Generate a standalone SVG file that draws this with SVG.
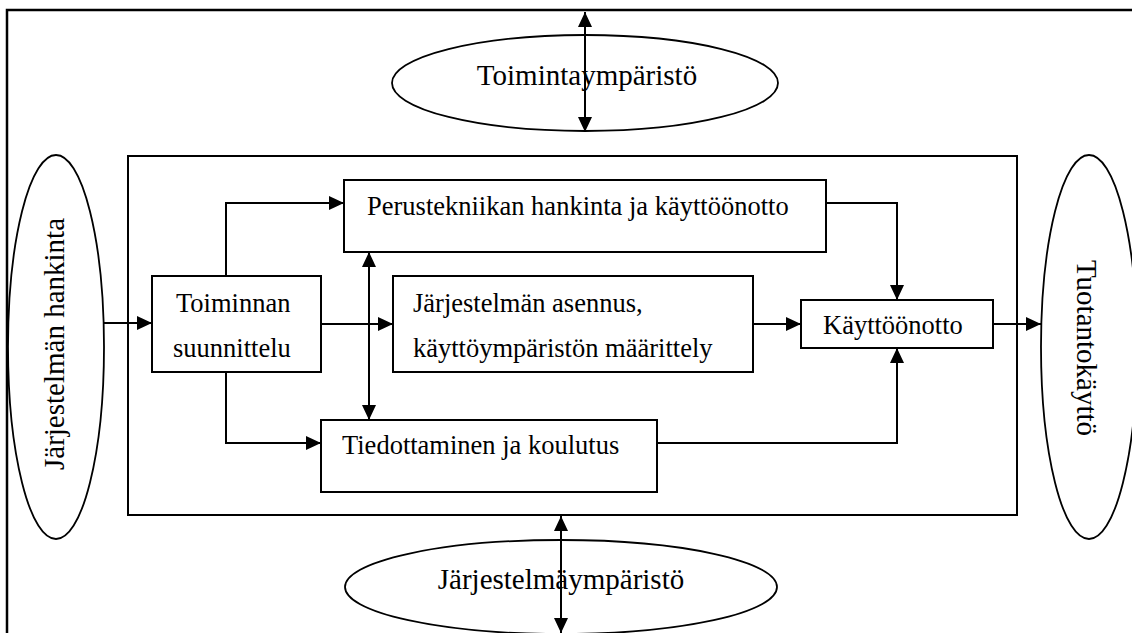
<svg xmlns="http://www.w3.org/2000/svg" width="1132" height="633" viewBox="0 0 1132 633">
<style>
  .frame{fill:none;stroke:#000;stroke-width:2.5}
  .box{fill:#fff;stroke:#000;stroke-width:2}
  .ell{fill:#fff;stroke:#000;stroke-width:1.8}
  text{font-family:'Liberation Serif','Times New Roman',serif;fill:#000}
  .t{font-size:26.5px}
  .te{font-size:29px}
  .c{fill:none;stroke:#000;stroke-width:2}
</style>
<defs>
  <marker id="ah" markerUnits="userSpaceOnUse" markerWidth="15" markerHeight="14" refX="15" refY="7" orient="auto-start-reverse">
    <path d="M0,0 L15,7 L0,14 z" fill="#000"/>
  </marker>
</defs>
<rect width="1132" height="633" fill="#fff"/>
<path class="frame" d="M7,633 V10 H1132"/>
<rect class="frame" x="128" y="156" width="889" height="359" style="stroke-width:2"/>

<g id="toimintaymparisto">
  <ellipse class="ell" cx="585" cy="83" rx="193" ry="48"/>
  <text class="te" x="587" y="85" text-anchor="middle">Toimintaympäristö</text>
</g>
<g id="jarjestelmaymparisto">
  <ellipse class="ell" cx="561" cy="587" rx="216" ry="47"/>
  <text class="te" x="561" y="589" text-anchor="middle">Järjestelmäympäristö</text>
</g>
<g id="jarjestelman-hankinta">
  <ellipse class="ell" cx="56" cy="347" rx="48" ry="192"/>
  <text class="te" transform="translate(64,344) rotate(-90)" text-anchor="middle">Järjestelmän hankinta</text>
</g>
<g id="tuotantokaytto">
  <ellipse class="ell" cx="1089" cy="347" rx="48" ry="192"/>
  <text class="te" transform="translate(1077,348) rotate(90)" text-anchor="middle">Tuotantokäyttö</text>
</g>
<g id="toiminnan-suunnittelu">
  <rect class="box" x="152" y="276" width="169" height="96"/>
  <text class="t" x="176" y="312">Toiminnan</text>
  <text class="t" x="173" y="357">suunnittelu</text>
</g>
<g id="perustekniikan">
  <rect class="box" x="344" y="180" width="482" height="72"/>
  <text class="t" x="367" y="215">Perustekniikan hankinta ja käyttöönotto</text>
</g>
<g id="jarjestelman-asennus">
  <rect class="box" x="393" y="276" width="360" height="96"/>
  <text class="t" x="413" y="312">Järjestelmän asennus,</text>
  <text class="t" x="413" y="357">käyttöympäristön määrittely</text>
</g>
<g id="tiedottaminen">
  <rect class="box" x="321" y="420" width="336" height="72"/>
  <text class="t" x="342" y="454">Tiedottaminen ja koulutus</text>
</g>
<g id="kayttoonotto">
  <rect class="box" x="801" y="300" width="192" height="48"/>
  <text class="t" x="823" y="334">Käyttöönotto</text>
</g>

<g id="connectors">
  <path class="c" d="M104,323 H152" marker-end="url(#ah)"/>
  <path class="c" d="M226,276 V203 H344" marker-end="url(#ah)"/>
  <path class="c" d="M321,324 H393" marker-end="url(#ah)"/>
  <path class="c" d="M226,372 V443 H321" marker-end="url(#ah)"/>
  <path class="c" d="M369,252 V420" marker-start="url(#ah)" marker-end="url(#ah)"/>
  <path class="c" d="M826,203 H897 V300" marker-end="url(#ah)"/>
  <path class="c" d="M753,324 H801" marker-end="url(#ah)"/>
  <path class="c" d="M657,443 H897 V348" marker-end="url(#ah)"/>
  <path class="c" d="M993,324 H1041" marker-end="url(#ah)"/>
  <path class="c" d="M585,12 V132" marker-start="url(#ah)" marker-end="url(#ah)"/>
  <path class="c" d="M561,516 V633" marker-start="url(#ah)" marker-end="url(#ah)"/>
</g>
</svg>
